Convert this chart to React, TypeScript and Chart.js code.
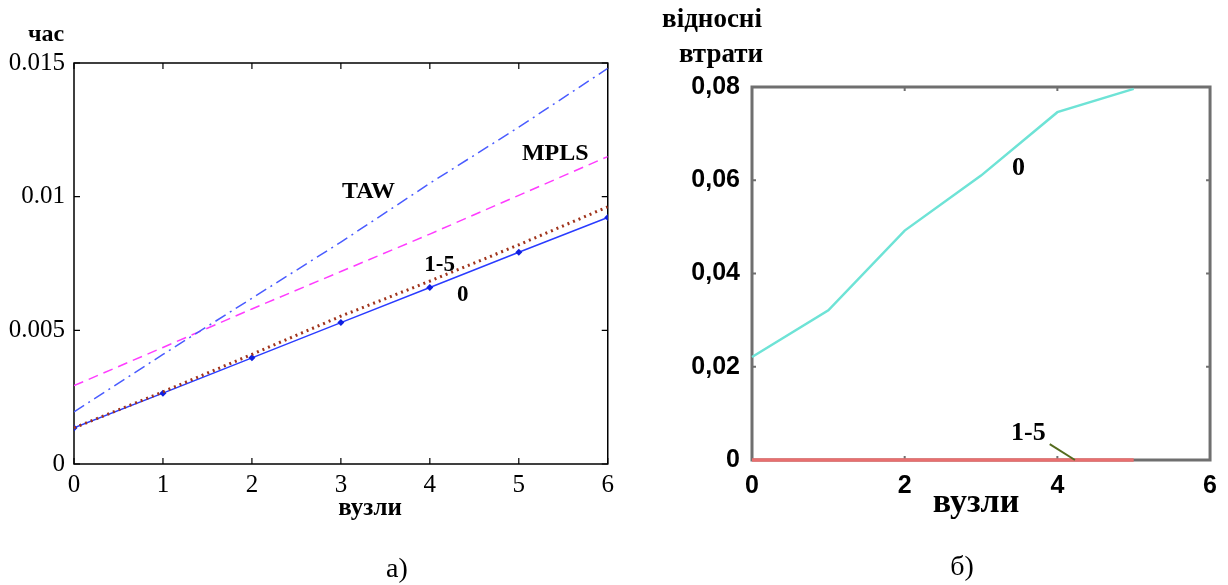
import React, { useEffect, useRef } from "react";
import { Chart, registerables } from "chart.js";

Chart.register(...registerables);

// ---- Chart a) : time vs nodes ----
const nodesA = [0, 1, 2, 3, 4, 5, 6];
const series0A = [0.00135, 0.00265, 0.00397, 0.00529, 0.0066, 0.00792, 0.00922];
const series15A = [0.00135, 0.0027, 0.0041, 0.00553, 0.00684, 0.0082, 0.00962];
const seriesMPLS = [0.00293, 0.00436, 0.0058, 0.0072, 0.0086, 0.01005, 0.0115];
const seriesTAW = [0.00195, 0.0041, 0.0062, 0.0083, 0.0105, 0.0126, 0.0148];
const yTicksA = ["0", "0.005", "0.01", "0.015"];
const xTicksA = ["0", "1", "2", "3", "4", "5", "6"];

// ---- Chart б) : relative losses vs nodes ----
const nodesB = [0, 1, 2, 3, 4, 5];
const series0B = [0.0221, 0.0321, 0.0492, 0.061, 0.0746, 0.0796];
const series15B = [0, 0, 0, 0, 0, 0];
const yTicksB = ["0", "0,02", "0,04", "0,06", "0,08"];
const xTicksB = ["0", "", "2", "", "4", "", "6"];
const leaderB = [
  { x: 3.9, y: 0.0034 },
  { x: 4.23, y: 0 },
];

type Lbl = { text: string; x: number; y: number; font: string; color?: string; align?: CanvasTextAlign };

const pts = (xs: number[], ys: number[]) => xs.map((x, i) => ({ x, y: ys[i] }));

const framePlugin = {
  id: "frame",
  beforeDatasetsDraw(chart: any, _args: any, opts: any) {
    const { ctx, chartArea: a, scales } = chart;
    ctx.save();
    ctx.strokeStyle = opts.color;
    ctx.lineWidth = opts.width;
    ctx.strokeRect(a.left, a.top, a.right - a.left, a.bottom - a.top);
    ctx.lineWidth = opts.tickWidth;
    const L = opts.tickLen;
    ctx.beginPath();
    for (const v of opts.xTicks as number[]) {
      const px = scales.x.getPixelForValue(v);
      ctx.moveTo(px, a.bottom);
      ctx.lineTo(px, a.bottom - L);
      ctx.moveTo(px, a.top);
      ctx.lineTo(px, a.top + L);
    }
    for (const v of opts.yTicks as number[]) {
      const py = scales.y.getPixelForValue(v);
      ctx.moveTo(a.left, py);
      ctx.lineTo(a.left + L, py);
      ctx.moveTo(a.right, py);
      ctx.lineTo(a.right - L, py);
    }
    ctx.stroke();
    ctx.restore();
  },
};

const textPlugin = {
  id: "texts",
  afterDraw(chart: any, _args: any, opts: any) {
    const { ctx, scales } = chart;
    ctx.save();
    ctx.textBaseline = "middle";
    for (const l of (opts.dataLabels || []) as Lbl[]) {
      ctx.font = l.font;
      ctx.fillStyle = l.color || "#000";
      ctx.textAlign = l.align || "center";
      ctx.fillText(l.text, scales.x.getPixelForValue(l.x), scales.y.getPixelForValue(l.y));
    }
    for (const l of (opts.pixelLabels || []) as Lbl[]) {
      ctx.font = l.font;
      ctx.fillStyle = l.color || "#000";
      ctx.textAlign = l.align || "center";
      ctx.fillText(l.text, l.x, l.y);
    }
    ctx.restore();
  },
};

function ChartA() {
  const ref = useRef<HTMLCanvasElement>(null);
  useEffect(() => {
    const lblFont = "bold 24px 'Liberation Serif', serif";
    const chart = new Chart(ref.current!, {
      type: "line",
      data: {
        datasets: [
          {
            label: "TAW",
            data: pts(nodesA, seriesTAW),
            borderColor: "#4a5cff",
            borderWidth: 1.5,
            borderDash: [12, 5, 2, 5],
            pointRadius: 0,
            fill: false,
          },
          {
            label: "MPLS",
            data: pts(nodesA, seriesMPLS),
            borderColor: "#ff3cff",
            borderWidth: 1.5,
            borderDash: [10, 6],
            pointRadius: 0,
            fill: false,
          },
          {
            label: "1-5",
            data: pts(nodesA, series15A),
            borderColor: "#a0341c",
            borderWidth: 3,
            borderDash: [2, 4],
            pointRadius: 0,
            fill: false,
          },
          {
            label: "0",
            data: pts(nodesA, series0A),
            borderColor: "#2a3cff",
            backgroundColor: "#1020e0",
            borderWidth: 1.5,
            pointStyle: "rectRot",
            pointRadius: 3.5,
            pointBorderWidth: 0,
            fill: false,
          },
        ],
      },
      options: {
        responsive: false,
        animation: false,
        layout: { padding: { left: 0, right: 7, top: 63, bottom: 81 } },
        plugins: {
          legend: { display: false },
          tooltip: { enabled: false },
          frame: { color: "#000", width: 1.5, tickWidth: 1.2, tickLen: 6, xTicks: nodesA, yTicks: [0, 0.005, 0.01, 0.015] },
          texts: {
            dataLabels: [
              { text: "TAW", x: 3.31, y: 0.01017, font: lblFont },
              { text: "MPLS", x: 5.41, y: 0.0116, font: lblFont },
              { text: "1-5", x: 4.11, y: 0.00744, font: "bold 23px 'Liberation Serif', serif" },
              { text: "0", x: 4.37, y: 0.00632, font: "bold 23px 'Liberation Serif', serif" },
            ],
            pixelLabels: [
              { text: "час", x: 46, y: 35, font: lblFont },
              { text: "вузли", x: 370, y: 509, font: "bold 25px 'Liberation Serif', serif" },
            ],
          },
        } as any,
        scales: {
          x: {
            type: "linear",
            min: 0,
            max: 6,
            grid: { display: false, drawTicks: false },
            border: { display: false },
            afterFit: (s: any) => { s.height = 40; },
            ticks: {
              stepSize: 1,
              padding: 6,
              color: "#000",
              font: { family: "'Liberation Serif', serif", size: 25 },
              callback: (_v: any, i: number) => xTicksA[i],
            },
          },
          y: {
            type: "linear",
            min: 0,
            max: 0.015,
            grid: { display: false, drawTicks: false },
            border: { display: false },
            afterFit: (s: any) => { s.width = 74; },
            ticks: {
              stepSize: 0.005,
              padding: 9,
              color: "#000",
              font: { family: "'Liberation Serif', serif", size: 25 },
              callback: (_v: any, i: number) => yTicksA[i],
            },
          },
        },
      },
      plugins: [framePlugin, textPlugin],
    });
    return () => chart.destroy();
  }, []);
  return <canvas ref={ref} width={620} height={585} />;
}

const leaderPlugin = {
  id: "leader",
  afterDatasetsDraw(chart: any, _a: any, opts: any) {
    const { ctx, scales } = chart;
    ctx.save();
    ctx.strokeStyle = opts.color;
    ctx.lineWidth = opts.width;
    ctx.beginPath();
    (opts.points as { x: number; y: number }[]).forEach((p, i) => {
      const px = scales.x.getPixelForValue(p.x);
      const py = scales.y.getPixelForValue(p.y);
      if (i === 0) ctx.moveTo(px, py);
      else ctx.lineTo(px, py);
    });
    ctx.stroke();
    ctx.restore();
  },
};

function ChartB() {
  const ref = useRef<HTMLCanvasElement>(null);
  useEffect(() => {
    const lblFont = "bold 26px 'Liberation Serif', serif";
    const titleFont = "bold 27px 'Liberation Serif', serif";
    const chart = new Chart(ref.current!, {
      type: "line",
      data: {
        datasets: [
          {
            label: "0",
            data: pts(nodesB, series0B),
            borderColor: "#6ee3d6",
            borderWidth: 2.5,
            pointRadius: 0,
            fill: false,
            clip: 6,
          },
          {
            label: "1-5",
            data: pts(nodesB, series15B),
            borderColor: "#e86f6f",
            borderWidth: 3.5,
            pointRadius: 0,
            fill: false,
            clip: 6,
          },
        ],
      },
      options: {
        responsive: false,
        animation: false,
        layout: { padding: { left: 0, right: 15, top: 87, bottom: 85 } },
        plugins: {
          legend: { display: false },
          tooltip: { enabled: false },
          frame: { color: "#6f6f6f", width: 3, tickWidth: 2, tickLen: 4, xTicks: [2, 4], yTicks: [0.02, 0.04, 0.06] },
          leader: { color: "#556b1e", width: 2, points: leaderB },
          texts: {
            dataLabels: [
              { text: "0", x: 3.49, y: 0.0625, font: lblFont },
              { text: "1-5", x: 3.62, y: 0.0058, font: lblFont },
            ],
            pixelLabels: [
              { text: "відносні", x: 92, y: 20, font: titleFont },
              { text: "втрати", x: 101, y: 55, font: titleFont },
              { text: "вузли", x: 356, y: 503, font: "bold 34px 'Liberation Serif', serif" },
            ],
          },
        } as any,
        scales: {
          x: {
            type: "linear",
            min: 0,
            max: 6,
            grid: { display: false, drawTicks: false },
            border: { display: false },
            afterFit: (s: any) => { s.height = 40; },
            ticks: {
              stepSize: 1,
              padding: 11,
              color: "#000",
              font: { family: "'Liberation Sans', Arial, sans-serif", size: 25, weight: "bold" },
              callback: (_v: any, i: number) => xTicksB[i],
            },
          },
          y: {
            type: "linear",
            min: 0,
            max: 0.08,
            grid: { display: false, drawTicks: false },
            border: { display: false },
            afterFit: (s: any) => { s.width = 132; },
            ticks: {
              stepSize: 0.02,
              padding: 12,
              color: "#000",
              font: { family: "'Liberation Sans', Arial, sans-serif", size: 25, weight: "bold" },
              callback: (_v: any, i: number) => yTicksB[i],
            },
          },
        },
      },
      plugins: [framePlugin, leaderPlugin, textPlugin],
    });
    return () => chart.destroy();
  }, []);
  return <canvas ref={ref} width={608} height={585} />;
}

export default function App() {
  const cap: React.CSSProperties = {
    position: "absolute",
    fontFamily: "'Liberation Serif', 'Times New Roman', serif",
    fontSize: 28,
    color: "#000",
    lineHeight: "30px",
    transform: "translate(-50%, -50%)",
    whiteSpace: "nowrap",
  };
  return (
    <div style={{ position: "fixed", left: 0, top: 0, width: 1228, height: 585, background: "#fff", overflow: "hidden" }}>
      <div style={{ position: "absolute", left: 0, top: 0 }}>
        <ChartA />
      </div>
      <div style={{ position: "absolute", left: 620, top: 0 }}>
        <ChartB />
      </div>
      <div style={{ ...cap, left: 397, top: 568 }}>а)</div>
      <div style={{ ...cap, left: 962, top: 566 }}>б)</div>
    </div>
  );
}
